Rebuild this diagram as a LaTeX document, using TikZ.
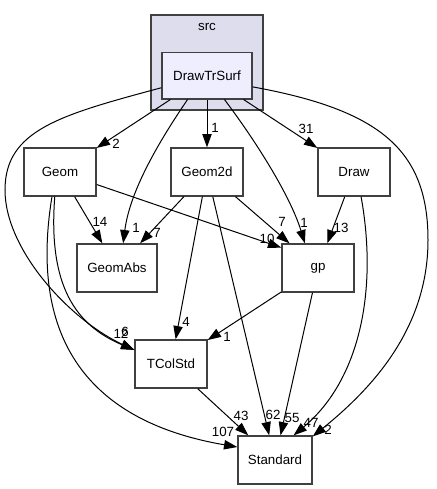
\documentclass[tikz,border=0pt]{standalone}
\usepackage{fontspec}
\setmainfont{Liberation Sans}
\usetikzlibrary{arrows.meta}

\definecolor{clusterfill}{HTML}{DDDDEE}
\definecolor{dirfill}{HTML}{EEEEFF}
\definecolor{boxline}{HTML}{404040}

\tikzset{
  dirbox/.style={draw=boxline, line width=1pt, fill=white, minimum width=54pt,
    minimum height=36pt, inner sep=0pt, font=\fontsize{10}{12}\selectfont},
  dep/.style={line width=0.75pt, -{Triangle[length=10pt,width=7pt]}},
  lbl/.style={inner sep=0pt, font=\fontsize{10}{12}\selectfont}
}

\begin{document}
\begin{tikzpicture}[x=0.75pt,y=-0.75pt]
  \useasboundingbox (0,0) rectangle (436,489);

  % cluster
  \draw[boxline, line width=1pt, fill=clusterfill] (151,15) rectangle (263,110);
  \node[lbl] (srclbl) at (207,27) {src};

  % directories
  \node[dirbox, fill=dirfill, minimum width=67.5pt, minimum height=35pt] (dts) at (207,75.5) {DrawTrSurf};
  \node[dirbox] (geom) at (60,172) {Geom};
  \node[dirbox] (geom2d) at (207,172) {Geom2d};
  \node[dirbox] (draw) at (354,172) {Draw};
  \node[dirbox, minimum width=60pt] (gabs) at (117,268) {GeomAbs};
  \node[dirbox] (gp) at (318,268) {gp};
  \node[dirbox] (tcs) at (171,364) {TColStd};
  \node[dirbox, minimum width=55.5pt] (std) at (275,460) {Standard};

  % dependencies
  \draw[dep] (dts) -- (geom);
  \draw[dep] (dts) -- (geom2d);
  \draw[dep] (dts) -- (draw);
  \draw[dep] (dts.231) .. controls (160,140) and (130,190) .. (gabs.76);
  \draw[dep] (dts.-54) .. controls (255,140) and (290,195) .. (gp.118);
  \draw[dep] (dts.195) .. controls (60,115) and (5,130) .. (5,190)
    .. controls (5,250) and (70,320) .. (tcs.159);
  \draw[dep] (dts.-14) .. controls (380,110) and (428,150) .. (428,240)
    .. controls (428,330) and (370,390) .. (std.32);
  \draw[dep] (geom) -- (gabs);
  \draw[dep] (geom) -- (gp.151);
  \draw[dep] (geom.258) .. controls (48,285) and (75,325) .. (tcs.159);
  \draw[dep] (geom.252) .. controls (30,330) and (80,420) .. (std.161);
  \draw[dep] (geom2d) -- (gabs);
  \draw[dep] (geom2d) -- (gp);
  \draw[dep] (geom2d) -- (tcs);
  \draw[dep] (geom2d) -- (std);
  \draw[dep] (draw) -- (gp);
  \draw[dep] (draw.-74) .. controls (378,290) and (360,380) .. (std.53);
  \draw[dep] (gp) -- (tcs);
  \draw[dep] (gp) -- (std);
  \draw[dep] (tcs) -- (std);

  % counts
  \node[lbl] (n1) at (116,144) {2};
  \node[lbl] (n2) at (215,128) {1};
  \node[lbl] (n3) at (306,129) {31};
  \node[lbl] (n4) at (136,228) {1};
  \node[lbl] (n5) at (304,223) {1};
  \node[lbl] (n6) at (121,334) {12};
  \node[lbl] (n7) at (125,332) {6};
  \node[lbl] (n8) at (328,430) {2};
  \node[lbl] (n9) at (100,222) {14};
  \node[lbl] (n10) at (267,239) {10};
  \node[lbl] (n11) at (223,432) {107};
  \node[lbl] (n12) at (157,233) {7};
  \node[lbl] (n13) at (282,222) {7};
  \node[lbl] (n14) at (186,322) {4};
  \node[lbl] (n15) at (273,415) {62};
  \node[lbl] (n16) at (341,228) {13};
  \node[lbl] (n17) at (311,423) {47};
  \node[lbl] (n18) at (227,337) {1};
  \node[lbl] (n19) at (292,418) {55};
  \node[lbl] (n20) at (241,416) {43};
\end{tikzpicture}
\end{document}
